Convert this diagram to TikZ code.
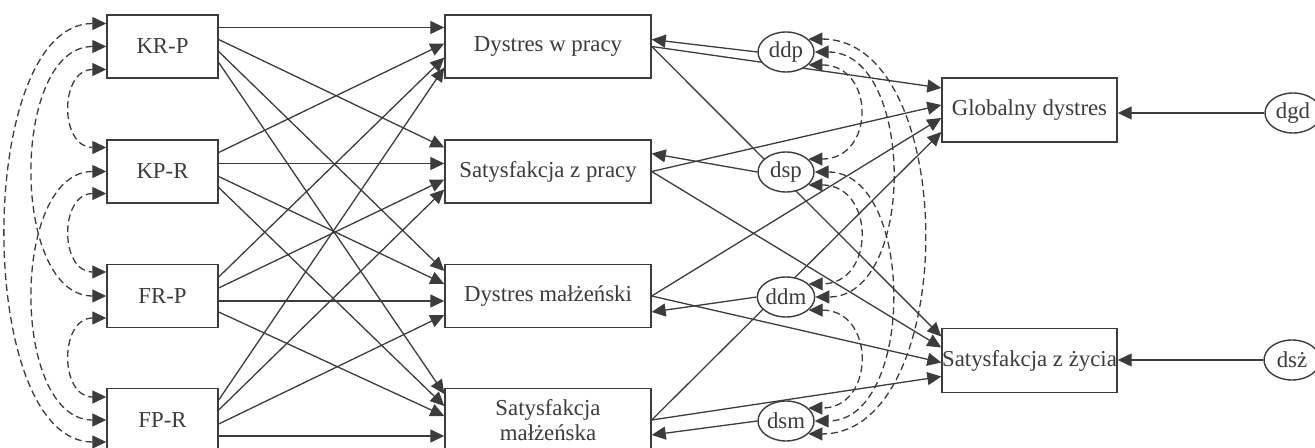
\documentclass[tikz,border=0pt]{standalone}
\usepackage{fontspec}
\setmainfont{Liberation Serif}
\usetikzlibrary{arrows.meta,calc,shapes.geometric,backgrounds}
\definecolor{ink}{HTML}{3C3C3C}

\begin{document}
\begin{tikzpicture}[x=0.5pt,y=-0.5pt,
  font=\fontsize{11.4}{12.6}\selectfont,
  box/.style={draw=ink,line width=0.7pt,fill=white,text=ink,inner sep=0pt,minimum height=31.5pt},
  err/.style={draw=ink,line width=0.7pt,ellipse,fill=white,text=ink,inner sep=0pt,minimum width=28pt,minimum height=20pt},
  link/.style={ink,line width=0.65pt,-{Triangle[length=7pt,width=6.5pt]}},
  cov/.style={ink,line width=0.65pt,dash pattern=on 3.5pt off 2pt,
    {Triangle[length=7pt,width=6.5pt]}-{Triangle[length=7pt,width=6.5pt]}},
]
  \useasboundingbox (0,0) rectangle (1315,448);

  % predictors
  \node[box,minimum width=55.5pt] (KRP) at (162.5,46.5) {KR-P};
  \node[box,minimum width=55.5pt] (KPR) at (162.5,171.5) {KP-R};
  \node[box,minimum width=55.5pt] (FRP) at (162.5,296) {FR-P};
  \node[box,minimum width=55.5pt] (FPR) at (162.5,420) {FP-R};

  % mediators
  \node[box,minimum width=103pt] (DWP) at (548,46.5) {Dystres w pracy};
  \node[box,minimum width=103pt] (SZP) at (548,171.5) {Satysfakcja z pracy};
  \node[box,minimum width=103pt] (DM) at (548,296) {Dystres małżeński};
  \node[box,minimum width=103pt,align=center] (SM) at (548,420) {Satysfakcja\\małżeńska};

  % outcomes
  \node[box,minimum width=87.5pt,minimum height=32pt] (GD) at (1029.5,110) {Globalny dystres};
  \node[box,minimum width=87.5pt,minimum height=32pt] (SZZ) at (1029.5,360.5) {Satysfakcja z życia};

  % disturbances
  \node[err] (ddp) at (786,52) {ddp};
  \node[err] (dsp) at (786,172) {dsp};
  \node[err] (ddm) at (786,297) {ddm};
  \node[err] (dsm) at (786,421) {dsm};
  \node[err] (dgd) at (1293,113) {dgd};
  \node[err] (dsz) at (1292,360) {dsż};

  \begin{pgfonlayer}{background}
    \foreach \s/\t/\a/\b in {KRP/DWP/-19/-19, KRP/SZP/-7/-24, KRP/DM/5/-25, KRP/SM/16/-26,
        KPR/DWP/-19/-3, KPR/SZP/-8/-8, KPR/DM/5/-12, KPR/SM/16/-14,
        FRP/DWP/-19/11, FRP/SZP/-8/8, FRP/DM/5/5, FRP/SM/16/-4,
        FPR/DWP/-20/21, FPR/SZP/-10/18, FPR/DM/4/19, FPR/SM/16/16}
      \draw[link] ($(\s.east)+(0,\a)$) -- ($(\t.west)+(0,\b)$);

    \foreach \s/\b/\c in {DWP/-22/-24, SZP/-5/-13, DM/8/2, SM/22/16} {
      \draw[link] (\s.east) -- ($(GD.west)+(0,\b)$);
      \draw[link] (\s.east) -- ($(SZZ.west)+(0,\c)$);
    }

    \foreach \e/\t/\b in {ddp/DWP/-7, dsp/SZP/-18, ddm/DM/16, dsm/SM/15}
      \draw[link] (\e.west) -- ($(\t.east)+(0,\b)$);
    \draw[link] (dgd.west) -- (dgd.west -| GD.east);
    \draw[link] (dsz.west) -- (dsz.west -| SZZ.east);

    % covariances of predictors
    \draw[cov] ($(KRP.west)+(0,23)$) .. controls +(-47,0) and +(-47,0) .. ($(KPR.west)+(0,-24)$);
    \draw[cov] ($(KPR.west)+(0,22)$) .. controls +(-47,0) and +(-47,0) .. ($(FRP.west)+(0,-24)$);
    \draw[cov] ($(FRP.west)+(0,22)$) .. controls +(-47,0) and +(-47,0) .. ($(FPR.west)+(0,-23)$);
    \draw[cov] (KRP.west) .. controls +(-96,0) and +(-96,0) .. (FRP.west);
    \draw[cov] (KPR.west) .. controls +(-96,0) and +(-96,0) .. (FPR.west);
    \draw[cov] ($(KRP.west)+(0,-23)$) .. controls +(-132,0) and +(-132,0) .. ($(FPR.west)+(0,22)$);

    % covariances of disturbances
    \draw[cov] (ddp.-30) .. controls +(67,0) and +(67,0) .. (dsp.30);
    \draw[cov] (dsp.-30) .. controls +(67,0) and +(67,0) .. (ddm.30);
    \draw[cov] (ddm.-30) .. controls +(67,0) and +(67,0) .. (dsm.30);
    \draw[cov] (ddp.0) .. controls +(101,0) and +(101,0) .. (ddm.0);
    \draw[cov] (dsp.0) .. controls +(101,0) and +(101,0) .. (dsm.0);
    \draw[cov] (ddp.30) .. controls +(152,0) and +(152,0) .. (dsm.-30);
  \end{pgfonlayer}
\end{tikzpicture}
\end{document}
